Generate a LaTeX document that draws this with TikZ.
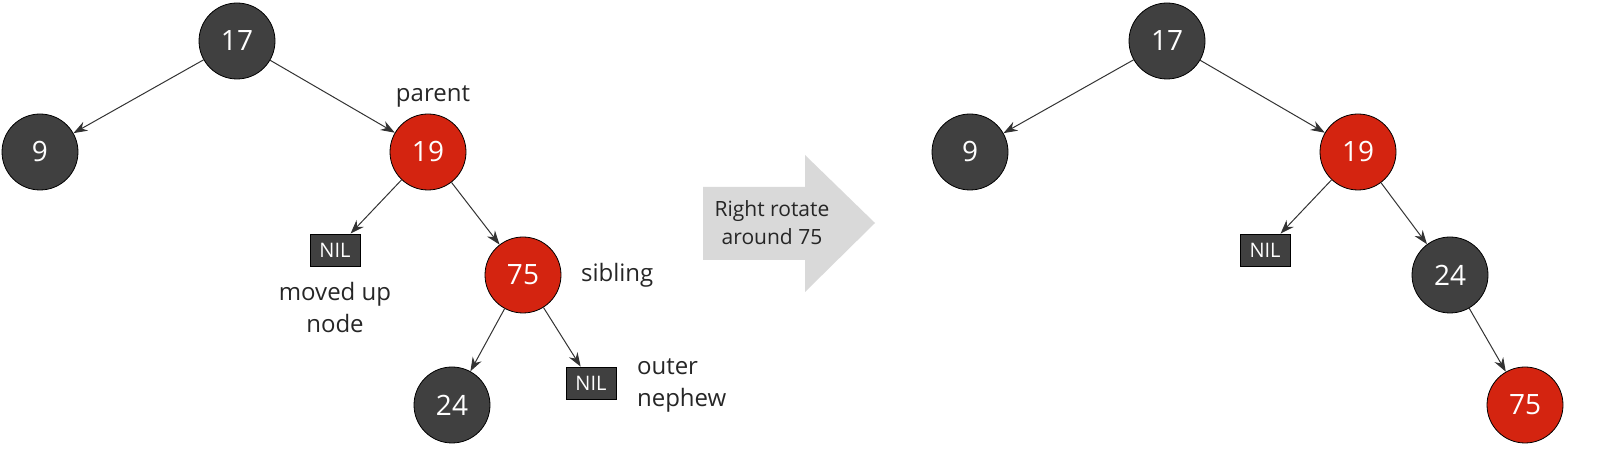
\documentclass[tikz,border=0pt]{standalone}
\usepackage{fontspec}
\setmainfont{Open Sans}
\usetikzlibrary{arrows.meta}
\definecolor{rbblack}{RGB}{64,64,64}
\definecolor{rbred}{RGB}{212,36,16}
\begin{document}
\begin{tikzpicture}[x=0.5pt,y=0.5pt,yscale=-1,
  bnode/.style={circle,draw=black,fill=rbblack,minimum size=38pt,inner sep=0pt,text=white,font=\fontsize{14}{16}\selectfont},
  rnode/.style={bnode,fill=rbred},
  nil/.style={draw=black,fill=rbblack,minimum width=25pt,minimum height=16pt,inner sep=0pt,text=white,font=\fontsize{10}{12}\selectfont},
  lbl/.style={font=\fontsize{12}{16}\selectfont,align=left,text=black!85},
  edge/.style={-{Stealth[length=7pt,width=5pt]},black!80,line width=0.5pt}]
  \useasboundingbox (0,0) rectangle (1600,458);

  % left tree
  \node[bnode] (lA) at (237,41) {17};
  \node[bnode] (lB) at (40,152) {9};
  \node[rnode] (lC) at (428,152) {19};
  \node[nil] (lD) at (335,250) {NIL};
  \node[rnode] (lE) at (523,275) {75};
  \node[bnode] (lF) at (452,405) {24};
  \node[nil] (lG) at (591,383) {NIL};
  \draw[edge] (lA) -- (lB);
  \draw[edge] (lA) -- (lC);
  \draw[edge] (lC) -- (lD);
  \draw[edge] (lC) -- (lE);
  \draw[edge] (lE) -- (lF);
  \draw[edge] (lE) -- (lG);
  \node[lbl] (pLbl) at (433,96) {parent};
  \node[lbl,align=center] (mLbl) at (335,308) {moved up\\node};
  \node[lbl,anchor=west] (sLbl) at (574,275) {sibling};
  \node[lbl,anchor=west] (oLbl) at (630,385) {outer\\nephew};

  % big arrow
  \fill[black!15] (703,187) -- (805,187) -- (805,155) -- (875,223) -- (805,292) -- (805,260) -- (703,260) -- cycle;
  \node[lbl,align=center,font=\fontsize{10.5}{14}\selectfont] (rot) at (772,223) {Right rotate\\around 75};

  % right tree
  \node[bnode] (rA) at (1167,41) {17};
  \node[bnode] (rB) at (970,152) {9};
  \node[rnode] (rC) at (1358,152) {19};
  \node[nil] (rD) at (1265,250) {NIL};
  \node[bnode] (rE) at (1450,275) {24};
  \node[rnode] (rF) at (1525,405) {75};
  \draw[edge] (rA) -- (rB);
  \draw[edge] (rA) -- (rC);
  \draw[edge] (rC) -- (rD);
  \draw[edge] (rC) -- (rE);
  \draw[edge] (rE) -- (rF);
\end{tikzpicture}
\end{document}
